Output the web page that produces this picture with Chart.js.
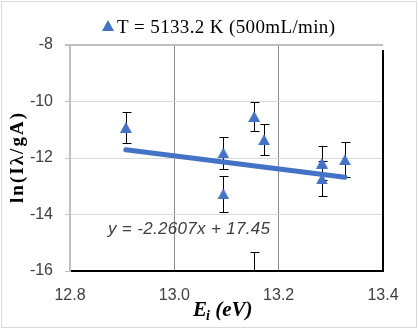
<!DOCTYPE html>
<html>
<head>
<meta charset="utf-8">
<script src="https://cdn.jsdelivr.net/npm/chart.js@4/dist/chart.umd.min.js"></script>
<style>
html,body{margin:0;padding:0;background:#fff;}
#wrap{width:418px;height:330px;position:relative;}
</style>
</head>
<body>
<div id="wrap"><canvas id="c" width="418" height="330"></canvas></div>
<script>
// ---- data ----
const seriesLabel = 'T = 5133.2 K (500mL/min)';
const energies = [12.907, 13.094, 13.094, 13.153, 13.172, 13.283, 13.283, 13.327, 13.153];
const lnValues = [-10.92, -11.82, -13.27, -10.53, -11.35, -12.18, -12.74, -12.06, -16.5];
const lnErrors = [0.55, 0.57, 0.64, 0.50, 0.56, 0.59, 0.62, 0.62, 1.17];
const trendX = [12.907, 13.327];
const trendY = [-11.71, -12.68];
const trendLabel = 'y = -2.2607x + 17.45';
const xTicks = [12.8, 13.0, 13.2, 13.4];
const yTicks = [-8, -10, -12, -14, -16];

const BLUE = '#4472C4';

// triangle marker (centred on its bounding box, like Excel)
function makeTri(w, h) {
  const c = document.createElement('canvas');
  c.width = w; c.height = h;
  const g = c.getContext('2d');
  g.fillStyle = BLUE;
  g.beginPath();
  g.moveTo(w / 2, 0);
  g.lineTo(w, h);
  g.lineTo(0, h);
  g.closePath();
  g.fill();
  return c;
}
const tri = makeTri(12, 11);

function fitText(ctx, text, x, y, width) {
  ctx.letterSpacing = '0px';
  const w = ctx.measureText(text).width;
  const ls = (width - w) / Math.max(1, text.length - 1);
  ctx.letterSpacing = ls + 'px';
  ctx.fillText(text, x, y);
  ctx.letterSpacing = '0px';
}

const decor = {
  id: 'decor',
  beforeDatasetsDraw(chart) {
    const {ctx, chartArea: a, scales: {x, y}} = chart;
    ctx.save();
    ctx.beginPath();
    ctx.rect(a.left, a.top, a.right - a.left, a.bottom - a.top);
    ctx.clip();
    ctx.strokeStyle = '#000';
    ctx.lineWidth = 1;
    for (let i = 0; i < energies.length; i++) {
      const px = Math.round(x.getPixelForValue(energies[i])) + 0.5;
      const top = Math.round(y.getPixelForValue(lnValues[i] + lnErrors[i])) + 0.5;
      const bot = Math.round(y.getPixelForValue(lnValues[i] - lnErrors[i])) + 0.5;
      ctx.beginPath();
      ctx.moveTo(px, top); ctx.lineTo(px, bot);
      ctx.moveTo(px - 4, top); ctx.lineTo(px + 5, top);
      ctx.moveTo(px - 4, bot); ctx.lineTo(px + 5, bot);
      ctx.stroke();
    }
    ctx.restore();
  },
  afterDraw(chart) {
    const {ctx, chartArea: a} = chart;
    ctx.save();
    // right black edge
    ctx.strokeStyle = '#000';
    ctx.lineWidth = 2;
    ctx.beginPath();
    ctx.moveTo(a.right, a.top + 5);
    ctx.lineTo(a.right, a.bottom + 1);
    ctx.stroke();
    // outer border
    ctx.strokeStyle = '#d9d9d9';
    ctx.lineWidth = 1;
    ctx.strokeRect(1.5, 1.5, 415, 326);
    // legend
    ctx.drawImage(tri, 102, 20);
    ctx.fillStyle = '#000';
    ctx.font = '19px "Liberation Serif"';
    ctx.textAlign = 'left';
    ctx.textBaseline = 'alphabetic';
    fitText(ctx, seriesLabel, 117, 33, 218);
    // trendline equation
    ctx.fillStyle = '#404040';
    ctx.font = 'italic 17px "Liberation Sans"';
    fitText(ctx, trendLabel, 108, 234, 162);
    // x title with subscript
    ctx.fillStyle = '#000';
    ctx.font = 'bold italic 21px "Liberation Serif"';
    let xx = 193;
    ctx.fillText('E', xx, 316);
    xx += ctx.measureText('E').width - 1;
    ctx.font = 'bold italic 14px "Liberation Serif"';
    ctx.fillText('i', xx, 320);
    xx += ctx.measureText('i').width;
    ctx.font = 'bold italic 21px "Liberation Serif"';
    ctx.fillText(' (eV)', xx, 316);
    // y title
    ctx.translate(23, 158);
    ctx.rotate(-Math.PI / 2);
    ctx.font = 'bold 19px "Liberation Serif"';
    ctx.textBaseline = 'alphabetic';
    fitText(ctx, 'ln(Iλ/gA)', -45, 0, 90);
    ctx.restore();
  }
};

const tickFont = {family: '"Liberation Sans"', size: 16};

new Chart(document.getElementById('c'), {
  type: 'scatter',
  data: {
    datasets: [
      {
        label: seriesLabel,
        data: energies.map((e, i) => ({x: e, y: lnValues[i]})),
        pointStyle: tri,
        pointRadius: 6,
        pointHoverRadius: 6,
        backgroundColor: BLUE,
        borderColor: BLUE,
        clip: 0,
        order: 1
      },
      {
        label: 'trend',
        data: trendX.map((e, i) => ({x: e, y: trendY[i]})),
        showLine: true,
        pointRadius: 0,
        borderColor: BLUE,
        borderWidth: 5,
        borderCapStyle: 'round',
        clip: 0,
        order: 0
      }
    ]
  },
  options: {
    responsive: false,
    animation: false,
    events: [],
    layout: {padding: {top: 45, right: 35, left: 0, bottom: 0}},
    plugins: {legend: {display: false}, tooltip: {enabled: false}},
    scales: {
      x: {
        type: 'linear',
        min: 12.8, max: 13.4,
        afterBuildTicks(s) { s.ticks = xTicks.map(v => ({value: v})); },
        afterFit(s) { s.height = 59; },
        ticks: {
          font: tickFont, color: '#404040', padding: 15,
          callback: v => Number(v).toFixed(1)
        },
        grid: {
          drawTicks: false,
          color: c => (c.tick && (Math.abs(c.tick.value - 13.0) < 1e-6 || Math.abs(c.tick.value - 13.2) < 1e-6)) ? '#8c8c8c' : 'rgba(0,0,0,0)',
          lineWidth: 1
        },
        border: {color: '#000', width: 2}
      },
      y: {
        min: -16, max: -8,
        afterBuildTicks(s) { s.ticks = yTicks.map(v => ({value: v})); },
        afterFit(s) { s.width = 70; },
        ticks: {font: tickFont, color: '#404040', padding: 12},
        grid: {
          tickLength: 5,
          tickColor: '#bfbfbf',
          color: c => {
            if (!c.tick) return '#d9d9d9';
            if (c.tick.value === -8) return '#bfbfbf';
            if (c.tick.value === -16) return 'rgba(0,0,0,0)';
            return '#d9d9d9';
          },
          lineWidth: c => (c.tick && c.tick.value === -8) ? 2 : 1
        },
        border: {color: '#bfbfbf', width: 2}
      }
    }
  },
  plugins: [decor]
});
</script>
</body>
</html>
